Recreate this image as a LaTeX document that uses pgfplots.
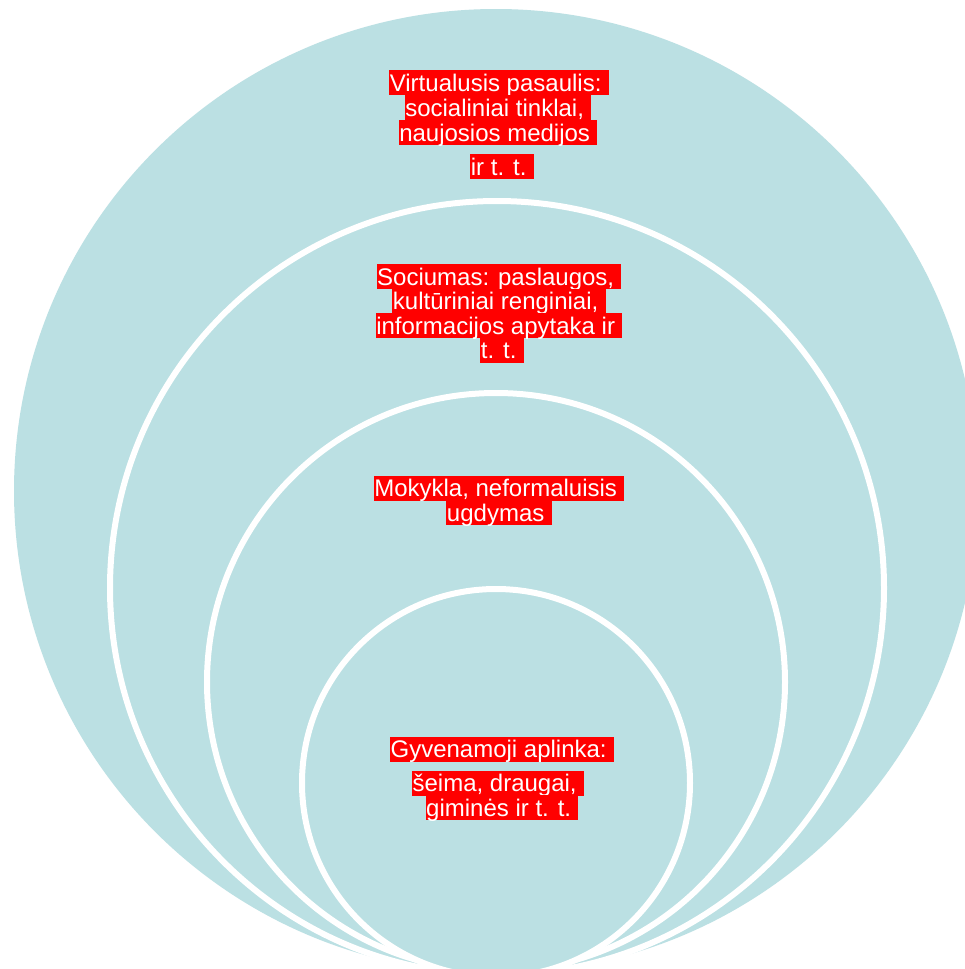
\documentclass[border=0pt]{standalone}
\usepackage{pgfplots}
\pgfplotsset{compat=1.18}
\usepackage{fontspec}
\setmainfont{Liberation Sans}
\definecolor{teal1}{RGB}{187,224,227}
\definecolor{hl}{RGB}{255,0,0}
\tikzset{lbl/.style={fill=hl, text=white, inner xsep=0.5pt, inner ysep=0pt,
    text height=21pt, text depth=4pt, anchor=base,
    font=\fontsize{24}{25}\selectfont}}
\begin{document}
\begin{tikzpicture}
\begin{axis}[
  scale only axis, width=965pt, height=969pt,
  xmin=0, xmax=965, ymin=0, ymax=969, y dir=reverse,
  hide axis, clip=true,
]
% nested circles: centre x, centre y, radius (pixels)
\fill[white] (axis cs:0,0) rectangle (axis cs:965,969);
\fill[teal1] (axis cs:496,491) circle [radius=482];
\draw[line width=6pt, white, fill=teal1] (axis cs:497,588) circle [radius=387];
\draw[line width=6pt, white, fill=teal1] (axis cs:496,682) circle [radius=289];
\draw[line width=6pt, white, fill=teal1] (axis cs:496,783) circle [radius=194];
% labels
\node[lbl] at (axis cs:499,91) {Virtualusis pasaulis:~\null};
\node[lbl] at (axis cs:498,116) {socialiniai tinklai,~\null};
\node[lbl] at (axis cs:498,141) {naujosios medijos~\null};
\node[lbl] at (axis cs:502,175) {ir t. t.~\null};
\node[lbl] at (axis cs:499,285) {Sociumas: paslaugos,~\null};
\node[lbl] at (axis cs:499,309.5) {kultūriniai renginiai,~\null};
\node[lbl] at (axis cs:499,334) {informacijos apytaka ir~\null};
\node[lbl] at (axis cs:502,358.5) {t. t.~\null};
\node[lbl] at (axis cs:499,496.5) {Mokykla, neformaluisis~\null};
\node[lbl] at (axis cs:499,521) {ugdymas~\null};
\node[lbl] at (axis cs:502,757.5) {Gyvenamoji aplinka:~\null};
\node[lbl] at (axis cs:498,791.5) {šeima, draugai,~\null};
\node[lbl] at (axis cs:502,816) {giminės ir t. t.~\null};
\end{axis}
\pgfresetboundingbox
\useasboundingbox (current axis.south west) rectangle (current axis.north east);
\end{tikzpicture}
\end{document}
